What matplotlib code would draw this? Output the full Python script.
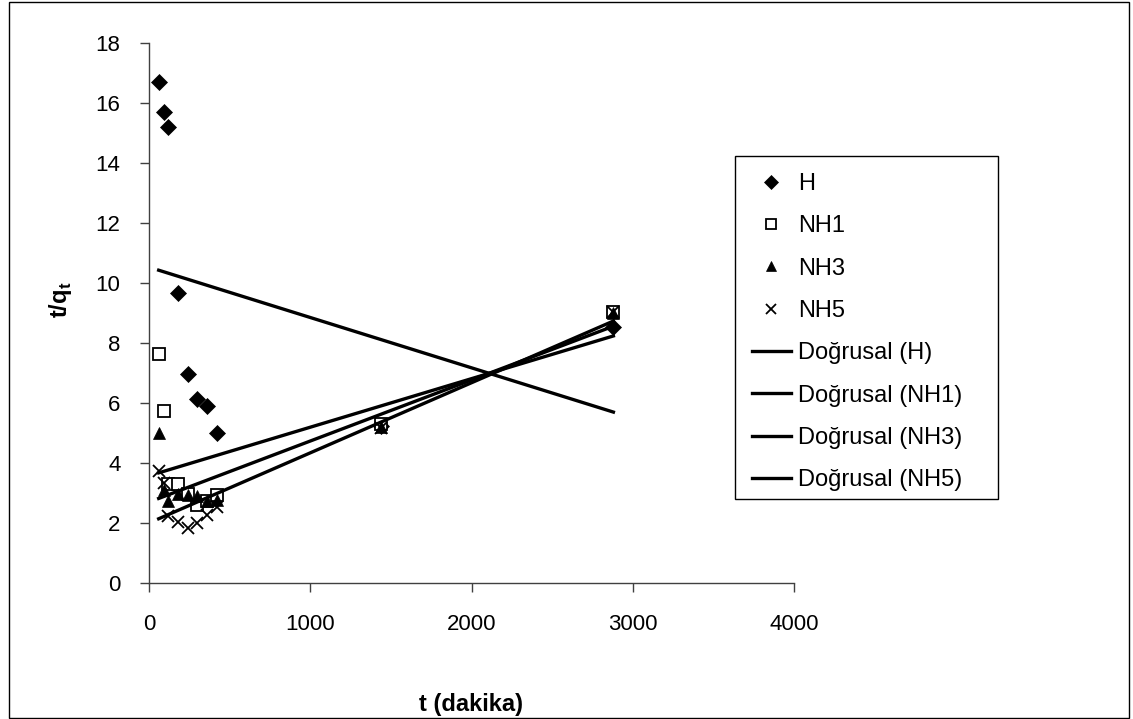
import numpy as np
import matplotlib
matplotlib.use("Agg")
import matplotlib.pyplot as plt
from matplotlib.patches import Rectangle

plt.rcParams['font.family'] = ['Liberation Sans', 'DejaVu Sans']

# Contact time (minutes)
t = [60, 90, 120, 180, 240, 300, 360, 420, 1440, 2880]

# t/qt values for each sample
H = [16.7, 15.7, 15.2, 9.67, 6.97, 6.14, 5.9, 5.01, 5.22, 8.55]
NH1 = [7.65, 5.75, 3.3, 3.3, 2.97, 2.61, 2.72, 2.95, 5.3, 9.05]
NH3 = [5.0, 3.11, 2.75, 2.97, 2.94, 2.89, 2.72, 2.78, 5.2, 9.0]
NH5 = [3.74, 3.35, 2.22, 2.04, 1.83, 2.0, 2.28, 2.55, 5.18, 9.05]

series_names = ["H", "NH1", "NH3", "NH5"]
trend_prefix = "Doğrusal"

x_ticks = [0, 1000, 2000, 3000, 4000]
y_ticks = [0, 2, 4, 6, 8, 10, 12, 14, 16, 18]

W, H_PX = 1133, 719
fig = plt.figure(figsize=(W / 100, H_PX / 100), dpi=100)
ax = fig.add_axes([149 / W, 1 - 583 / H_PX, (794 - 149) / W, (583 - 43) / H_PX])

styles = [
    dict(marker='D', ms=7.8, mfc='black', mec='black', mew=0.5),
    dict(marker='s', ms=8, mfc='white', mec='black', mew=1.3),
    dict(marker='^', ms=9, mfc='black', mec='black', mew=0.5),
    dict(marker='x', ms=9, mfc='black', mec='black', mew=1.3),
]

tx = np.array(t, dtype=float)
scatter_handles = []
line_handles = []
for name, ys, st in zip(series_names, [H, NH1, NH3, NH5], styles):
    h, = ax.plot(tx, ys, linestyle='none', label=name, **st)
    scatter_handles.append(h)

# Linear trend line for each series, spanning the measured time range
for name, ys in zip(series_names, [H, NH1, NH3, NH5]):
    slope, icpt = np.polyfit(tx, np.array(ys), 1)
    xs = np.array([tx.min(), tx.max()])
    l, = ax.plot(xs, slope * xs + icpt, color='black', lw=2.4,
                 label=f"{trend_prefix} ({name})")
    line_handles.append(l)

ax.set_xlim(0, 4000)
ax.set_ylim(0, 18)
ax.set_xticks(x_ticks)
ax.set_yticks(y_ticks)
ax.tick_params(axis='both', direction='out', length=6.5, width=1,
               color='#404040', labelsize=16)
ax.tick_params(axis='y', pad=14)
ax.tick_params(axis='x', pad=16)
for side in ['top', 'right']:
    ax.spines[side].set_visible(False)
for side in ['left', 'bottom']:
    ax.spines[side].set_color('#404040')
    ax.spines[side].set_linewidth(1)

fig.text(471 / W, 1 - 705 / H_PX, "t (dakika)", ha='center', va='center',
         fontsize=17, fontweight='bold')
fig.text(60 / W, 1 - 300 / H_PX, r"t/q$_\mathregular{t}$", ha='center', va='center',
         rotation=90, fontsize=17, fontweight='bold')

leg = fig.legend(handles=scatter_handles + line_handles,
                 loc='upper left',
                 bbox_to_anchor=(735 / W, 1 - 499 / H_PX, (998 - 735) / W, (499 - 156) / H_PX),
                 bbox_transform=fig.transFigure, mode='expand',
                 frameon=False, fontsize=17, handlelength=1.65,
                 handletextpad=0.3, labelspacing=0.86, borderpad=0.72,
                 borderaxespad=0, markerscale=0.85)

# Legend frame
fig.patches.append(Rectangle((735 / W, 1 - 499 / H_PX), (998 - 735) / W, (499 - 156) / H_PX,
                             transform=fig.transFigure, fill=False,
                             edgecolor='black', lw=1))

# Outer chart border
fig.patches.append(Rectangle((9 / W, 1 / H_PX), (1129 - 9) / W, (717 - 1) / H_PX,
                             transform=fig.transFigure, fill=False,
                             edgecolor='black', lw=1))

fig.savefig("out.png", dpi=100)
